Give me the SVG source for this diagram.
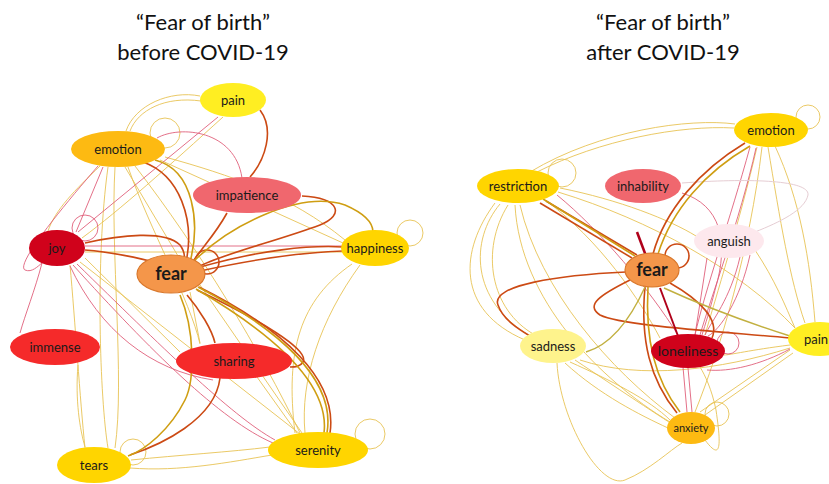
<svg xmlns="http://www.w3.org/2000/svg" width="829" height="484" viewBox="0 0 829 484">
<style>
text{font-family:Lato,"Open Sans","Liberation Sans",sans-serif;fill:#1a1a1a;text-anchor:middle}
.title{font-size:22px;fill:#111}
.lbl{font-size:13px}
.fear{font-size:18px;font-weight:bold}
.e{fill:none}
.y{stroke:#E8C355;stroke-width:0.9}
.g{stroke:#CF9E12;stroke-width:1.6}
.o{stroke:#CC4A14;stroke-width:1.6}
.p{stroke:#E0607A;stroke-width:0.9}
.r{stroke:#B0001A;stroke-width:2}
.lp{stroke:#E6CDD3;stroke-width:1}
.ol{stroke:#C2B040;stroke-width:1.4}
.c-pain{fill:#FFEE22}
.c-gold{fill:#FFD500}
.c-org{fill:#FDBA12}
.c-sal{fill:#F0676E}
.c-dred{fill:#D0021B}
.c-red{fill:#F52A2A}
.c-fear{fill:#F4964A;stroke:#D9782C;stroke-width:1.2}
.c-ang{fill:#FDE8ED}
.c-sad{fill:#FEF38C}
</style>
<g id="titles">
<text class="title" x="203" y="30">“Fear of birth”</text>
<text class="title" x="203" y="60">before COVID-19</text>
<text class="title" x="663" y="30">“Fear of birth”</text>
<text class="title" x="663" y="60">after COVID-19</text>
</g>
<g id="edges-before" class="e">
<path class="y" d="M200,96 C170,90 135,105 126,131"/>
<path class="y" d="M201,101 C165,96 138,110 130,131"/>
<path class="y" d="M100,166 C75,190 55,210 48,231"/>
<path class="y" d="M223,117 C170,165 120,210 82,238"/>
<path class="y" d="M160,160 L343,243"/>
<path class="y" d="M165,157 C230,175 290,195 345,240"/>
<path class="y" d="M125,167 L178,256"/>
<path class="y" d="M115,167 C110,250 125,380 115,448"/>
<path class="y" d="M108,167 C95,260 100,400 108,448"/>
<path class="y" d="M128,167 C150,230 190,300 200,344"/>
<path class="y" d="M135,166 C200,250 260,350 300,433"/>
<path class="y" d="M70,265 C75,320 80,400 85,448"/>
<path class="y" d="M78,365 C75,400 80,430 85,447"/>
<path class="y" d="M85,258 L180,352"/>
<path class="y" d="M80,262 L300,434"/>
<path class="y" d="M200,285 L302,433"/>
<path class="y" d="M257,377 L297,433"/>
<path class="y" d="M190,292 L200,343"/>
<path class="y" d="M131,460 C180,455 230,452 270,447"/>
<path class="y" d="M130,468 C180,472 230,462 272,455"/>
<path class="y" d="M352,264 C300,300 285,350 295,433"/>
<path class="y" d="M360,265 C320,320 300,380 305,433"/>
<path class="y" d="M85,252 L342,252"/>
<circle class="y" cx="133" cy="452" r="13"/>
<circle class="y" cx="370" cy="434" r="15"/>
<circle class="y" cx="410" cy="233" r="13"/>
<circle class="y" cx="165" cy="133" r="15"/>
<path class="p" d="M218,117 L78,232"/>
<path class="p" d="M157,138 C180,125 235,130 242,178"/>
<path class="p" d="M103,167 L76,232"/>
<circle class="p" cx="85" cy="228" r="13"/>
<path class="p" d="M85,246 L342,246"/>
<path class="p" d="M42,263 C35,290 25,315 20,333"/>
<path class="p" d="M98,166 C60,210 15,265 25,270 C32,273 38,266 42,263"/>
<path class="p" d="M73,265 C150,350 220,420 273,443"/>
<path class="p" d="M77,264 C160,345 230,415 275,440"/>
<path class="p" d="M70,266 C100,330 150,370 213,380"/>
<path class="o" d="M260,110 C275,130 265,160 250,177"/>
<path class="o" d="M143,162 C180,175 195,220 186,262"/>
<path class="g" d="M155,160 C195,170 200,225 190,262"/>
<path class="o" d="M227,213 C215,235 200,250 192,263"/>
<path class="o" d="M302,196 C340,198 345,215 320,225 C280,240 220,255 200,266"/>
<path class="o" d="M85,243 C120,235 165,230 180,245 C185,252 185,258 183,262"/>
<path class="o" d="M85,250 C110,252 140,258 157,263"/>
<circle class="o" cx="207" cy="262" r="12"/>
<path class="o" d="M200,267 C260,250 310,245 343,247"/>
<path class="o" d="M200,271 C260,258 310,252 343,251"/>
<path class="o" d="M187,295 C200,310 212,330 215,343"/>
<path class="o" d="M220,378 C215,420 160,445 130,455"/>
<path class="o" d="M199,287 C285,330 338,380 330,433"/>
<path class="o" d="M197,290 C260,320 310,350 303,362 C300,367 295,367 290,367"/>
<path class="g" d="M193,262 C230,225 300,190 345,205 C368,215 373,225 373,232"/>
<path class="g" d="M180,295 C195,330 195,380 185,400 C170,430 145,450 128,456"/>
<path class="g" d="M196,289 C275,335 330,385 324,433"/>
<path class="g" d="M198,287 C280,330 336,380 327,433"/>
</g>
<g id="edges-after" class="e">
<path class="y" d="M537,172 C600,140 680,125 734,128"/>
<path class="y" d="M530,172 C600,130 690,118 735,124"/>
<circle class="y" cx="562" cy="173" r="14"/>
<circle class="y" cx="808" cy="117" r="12"/>
<path class="y" d="M560,188 C620,200 670,220 696,236"/>
<path class="y" d="M558,192 C650,220 740,270 795,328"/>
<path class="y" d="M500,204 C470,240 470,300 530,336"/>
<path class="y" d="M508,205 C480,250 490,310 535,335"/>
<path class="y" d="M495,203 C460,250 455,310 525,340"/>
<path class="y" d="M515,205 C520,300 600,380 670,422"/>
<path class="y" d="M520,205 C540,290 610,370 675,418"/>
<path class="y" d="M545,200 C600,240 640,300 660,338"/>
<path class="y" d="M757,147 C740,220 715,300 705,335"/>
<path class="y" d="M762,147 C750,250 720,350 695,412"/>
<path class="y" d="M768,147 C780,220 790,280 805,323"/>
<path class="y" d="M775,146 C800,200 810,260 815,322"/>
<path class="y" d="M755,250 C775,280 785,305 795,328"/>
<path class="y" d="M580,360 C640,380 720,370 790,348"/>
<path class="y" d="M570,362 C610,380 650,400 670,420"/>
<path class="y" d="M575,360 C620,390 650,410 672,424"/>
<path class="y" d="M565,363 C600,395 640,415 668,428"/>
<path class="y" d="M557,363 C560,420 600,490 625,480 C650,470 670,450 682,443"/>
<circle class="y" cx="717" cy="414" r="12"/>
<path class="y" d="M705,440 C720,460 722,450 716,410 C712,390 705,375 700,367"/>
<path class="y" d="M790,350 L700,412"/>
<path class="y" d="M793,353 L705,415"/>
<path class="y" d="M790,345 C750,350 730,355 724,355"/>
<path class="p" d="M557,195 C600,230 650,290 678,335"/>
<path class="p" d="M750,147 C730,220 705,290 695,335"/>
<path class="p" d="M756,148 C740,220 710,300 700,335"/>
<path class="p" d="M682,193 C720,205 730,240 715,290 C710,310 705,325 702,335"/>
<path class="p" d="M707,258 L695,335"/>
<path class="p" d="M740,257 C730,300 712,320 705,335"/>
<path class="p" d="M750,255 C740,300 720,330 708,336"/>
<circle class="p" cx="728" cy="343" r="11"/>
<path class="p" d="M790,349 C760,365 730,372 707,370"/>
<path class="p" d="M683,367 L687,412"/>
<path class="p" d="M688,368 L692,412"/>
<path class="lp" d="M682,183 C750,178 810,180 808,195 C805,210 780,222 755,232"/>
<path class="o" d="M540,203 L632,258"/>
<path class="o" d="M546,201 L637,255"/>
<path class="g" d="M543,199 L635,256"/>
<path class="o" d="M653,254 C665,210 700,170 745,143"/>
<path class="g" d="M658,254 C672,210 705,172 750,146"/>
<path class="o" d="M626,272 C560,275 490,285 498,305 C503,320 520,330 530,336"/>
<path class="o" d="M630,280 C600,295 585,305 600,315 C620,325 700,330 790,338"/>
<path class="o" d="M670,283 C700,300 720,320 712,338"/>
<circle class="o" cx="677" cy="256" r="12"/>
<path class="o" d="M645,287 C640,340 650,380 677,413"/>
<path class="g" d="M648,287 C645,340 655,380 680,412"/>
<path class="ol" d="M790,336 C740,320 690,300 664,288"/>
<path class="ol" d="M586,352 C610,345 630,320 645,287"/>
<path class="r" d="M637,232 L646,256" style="stroke-width:2.6"/>
<path class="r" d="M660,288 L678,336"/>
</g>
<g id="node-pain-b"><ellipse class="c-pain" cx="233" cy="100" rx="33" ry="17"/><text class="lbl" x="233" y="104.5">pain</text></g>
<g id="node-emotion-b"><ellipse class="c-org" cx="118" cy="149" rx="47" ry="18"/><text class="lbl" x="118" y="153.5">emotion</text></g>
<g id="node-impatience"><ellipse class="c-sal" cx="247" cy="195" rx="54" ry="18"/><text class="lbl" x="247" y="199.5">impatience</text></g>
<g id="node-joy"><ellipse class="c-dred" cx="57" cy="248" rx="28" ry="18"/><text class="lbl" x="57" y="252.5">joy</text></g>
<g id="node-happiness"><ellipse class="c-gold" cx="375" cy="248" rx="34" ry="18"/><text class="lbl" x="375" y="252.5">happiness</text></g>
<g id="node-fear-b"><ellipse class="c-fear" cx="171" cy="274" rx="34" ry="19"/><text class="fear" x="171" y="280">fear</text></g>
<g id="node-immense"><ellipse class="c-red" cx="55" cy="347" rx="45" ry="18"/><text class="lbl" x="55" y="351.5">immense</text></g>
<g id="node-sharing"><ellipse class="c-red" cx="234" cy="361" rx="58" ry="18"/><text class="lbl" x="234" y="365.5">sharing</text></g>
<g id="node-tears"><ellipse class="c-gold" cx="94" cy="465" rx="37" ry="18"/><text class="lbl" x="94" y="469.5">tears</text></g>
<g id="node-serenity"><ellipse class="c-gold" cx="318" cy="450" rx="50" ry="18"/><text class="lbl" x="318" y="454.5">serenity</text></g>
<g id="node-emotion-a"><ellipse class="c-gold" cx="771" cy="130" rx="37" ry="17"/><text class="lbl" x="771" y="134.5">emotion</text></g>
<g id="node-restriction"><ellipse class="c-gold" cx="518" cy="186" rx="41" ry="17"/><text class="lbl" x="518" y="190.5">restriction</text></g>
<g id="node-inhability"><ellipse class="c-sal" cx="643" cy="186" rx="38" ry="17"/><text class="lbl" x="643" y="190.5">inhability</text></g>
<g id="node-anguish"><ellipse class="c-ang" cx="729" cy="241" rx="35" ry="17"/><text class="lbl" x="729" y="245.5">anguish</text></g>
<g id="node-fear-a"><ellipse class="c-fear" cx="652" cy="270" rx="27" ry="17"/><text class="fear" x="652" y="276">fear</text></g>
<g id="node-sadness"><ellipse class="c-sad" cx="553" cy="346" rx="33" ry="17"/><text class="lbl" x="553" y="350.5">sadness</text></g>
<g id="node-loneliness"><ellipse class="c-dred" cx="688" cy="351" rx="37" ry="17"/><text class="lbl" x="688" y="355.5" style="font-size:14px">loneliness</text></g>
<g id="node-pain-a"><ellipse class="c-pain" cx="820" cy="339" rx="32" ry="17"/><text class="lbl" x="816" y="343.5">pain</text></g>
<g id="node-anxiety"><ellipse class="c-org" cx="691" cy="428" rx="24" ry="16"/><text class="lbl" x="691" y="432" style="font-size:11px">anxiety</text></g>
</svg>
